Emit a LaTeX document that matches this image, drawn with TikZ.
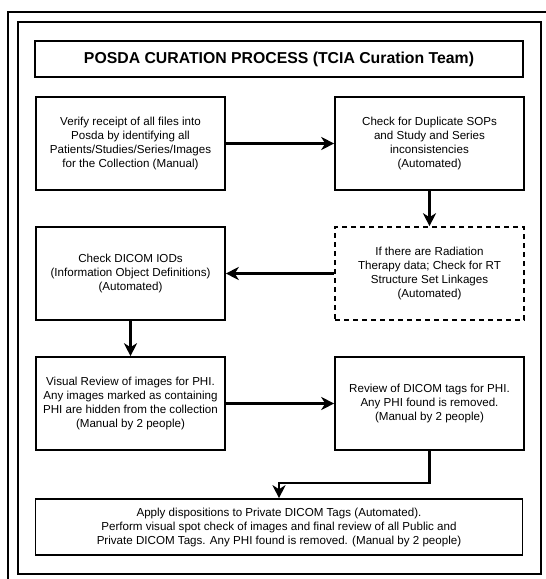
\documentclass[tikz,border=0pt]{standalone}
\usepackage{fontspec}
\setmainfont{Liberation Sans}
\usepackage{tikz}
\usetikzlibrary{shapes,arrows,arrows.meta}
\tikzstyle{line} = [draw, line width=2.4pt, -{Stealth[length=13pt, width=13pt, inset=4pt]}]
\tikzstyle{frame} = [draw, line width=1.6pt]
\tikzstyle{title_box} = [rectangle, draw, line width=1.6pt, minimum width=488pt, minimum height=36pt, text centered, font=\fontsize{15.8}{18}\selectfont\bfseries]
\tikzstyle{step_box} = [rectangle, draw, line width=1.6pt, minimum width=189pt, minimum height=93pt, align=center, node distance=299pt, font=\fontsize{11.6}{14}\selectfont]
\tikzstyle{step_opt} = [step_box, dash pattern=on 5pt off 4pt]
\tikzstyle{final_box} = [rectangle, draw, line width=1.6pt, minimum width=487pt, minimum height=56pt, align=center, font=\fontsize{11.6}{14}\selectfont]

\begin{document}
\begin{tikzpicture}[x=1pt, y=1pt]
\useasboundingbox (-130.5,-435.5) rectangle (415.5,143.5);
\draw [frame] (415.5,131.5) -| (-122.5,-435.5);
\draw [frame] (-112.5,-430.5) rectangle (410.5,121.5);

\node [title_box] (title) at (148.5,84.5) {POSDA CURATION PROCESS (TCIA Curation Team)};


\node [step_box] (verify) at (0,0) {Verify receipt of all files into\\Posda by identifying all\\Patients/Studies/Series/Images\\for the Collection (Manual)};
\node [step_box, right of = verify] (dup_sop) {Check for Duplicate SOPs\\and Study and Series\\inconsistencies\\(Automated)};
\path [line] (verify.east) to (dup_sop.west);


\node [step_opt, below of = dup_sop, node distance = 130pt] (rt_link) {If there are Radiation\\Therapy data; Check for RT\\Structure Set Linkages\\(Automated)};
\path [line] (dup_sop.south) to (rt_link.north);

\node [step_box, left of = rt_link] (iod) {Check DICOM IODs\\(Information Object Definitions)\\(Automated)};
\path [line] (rt_link.west) to (iod.east);


\node [step_box, below of = iod, node distance = 130pt] (visual) {Visual Review of images for PHI.\\Any images marked as containing\\PHI are hidden from the collection\\(Manual by 2 people)};
\path [line] (iod.south) to (visual.north);

\node [step_box, right of = visual] (tags) {Review of DICOM tags for PHI.\\Any PHI found is removed.\\(Manual by 2 people)};
\path [line] (visual.east) to (tags.west);


\node [final_box, below of = title, node distance = 468pt] (final) {Apply dispositions to Private DICOM Tags (Automated).\\Perform visual spot check of images and final review of all Public and\\Private DICOM Tags. Any PHI found is removed. (Manual by 2 people)};
\path [line] (tags.south) -- ++(0,-32) -| (final.north);
\end{tikzpicture}
\end{document}
